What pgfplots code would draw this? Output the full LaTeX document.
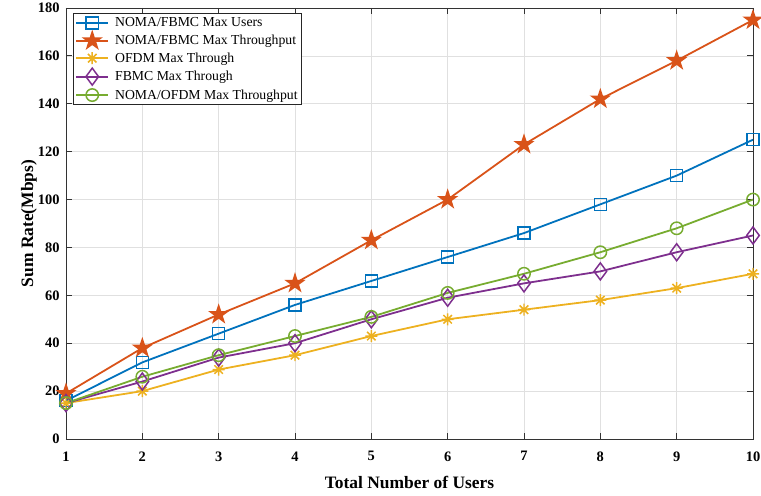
\documentclass[border=0pt]{standalone}
\usepackage{pgfplots}
\pgfplotsset{compat=1.18}
\usepackage{fontspec}
\setmainfont{Liberation Serif}
\usetikzlibrary{plotmarks}
\definecolor{mblue}{rgb}{0,0.447,0.741}
\definecolor{mred}{rgb}{0.85,0.325,0.098}
\definecolor{myellow}{rgb}{0.929,0.694,0.125}
\definecolor{mpurple}{rgb}{0.494,0.184,0.556}
\definecolor{mgreen}{rgb}{0.466,0.674,0.188}
\pgfdeclareplotmark{pentagram}{%
  \pgfpathmoveto{\pgfqpointpolar{90}{\pgfplotmarksize}}%
  \pgfpathlineto{\pgfqpointpolar{126}{0.382\pgfplotmarksize}}%
  \pgfpathlineto{\pgfqpointpolar{162}{\pgfplotmarksize}}%
  \pgfpathlineto{\pgfqpointpolar{198}{0.382\pgfplotmarksize}}%
  \pgfpathlineto{\pgfqpointpolar{234}{\pgfplotmarksize}}%
  \pgfpathlineto{\pgfqpointpolar{270}{0.382\pgfplotmarksize}}%
  \pgfpathlineto{\pgfqpointpolar{306}{\pgfplotmarksize}}%
  \pgfpathlineto{\pgfqpointpolar{342}{0.382\pgfplotmarksize}}%
  \pgfpathlineto{\pgfqpointpolar{18}{\pgfplotmarksize}}%
  \pgfpathlineto{\pgfqpointpolar{54}{0.382\pgfplotmarksize}}%
  \pgfpathclose
  \pgfusepathqfillstroke
}
\pgfdeclareplotmark{matast}{%
  \pgfpathmoveto{\pgfqpoint{-\pgfplotmarksize}{0pt}}\pgfpathlineto{\pgfqpoint{\pgfplotmarksize}{0pt}}%
  \pgfpathmoveto{\pgfqpoint{0pt}{-\pgfplotmarksize}}\pgfpathlineto{\pgfqpoint{0pt}{\pgfplotmarksize}}%
  \pgfpathmoveto{\pgfqpoint{-0.707\pgfplotmarksize}{-0.707\pgfplotmarksize}}\pgfpathlineto{\pgfqpoint{0.707\pgfplotmarksize}{0.707\pgfplotmarksize}}%
  \pgfpathmoveto{\pgfqpoint{-0.707\pgfplotmarksize}{0.707\pgfplotmarksize}}\pgfpathlineto{\pgfqpoint{0.707\pgfplotmarksize}{-0.707\pgfplotmarksize}}%
  \pgfusepathqstroke
}
\pgfdeclareplotmark{mdiamond}{%
  \pgfpathmoveto{\pgfqpoint{0pt}{1.35\pgfplotmarksize}}%
  \pgfpathlineto{\pgfqpoint{\pgfplotmarksize}{0pt}}%
  \pgfpathlineto{\pgfqpoint{0pt}{-1.35\pgfplotmarksize}}%
  \pgfpathlineto{\pgfqpoint{-\pgfplotmarksize}{0pt}}%
  \pgfpathclose
  \pgfusepathqstroke
}
\begin{document}
\begin{tikzpicture}[x=1bp,y=1bp]
\begin{axis}[
  scale only axis,
  width=687bp, height=431bp,
  xmin=1, xmax=10, ymin=0, ymax=180,
  xtick={1,...,10}, ytick={0,20,...,180},
  grid=major,
  major grid style={black!12, line width=0.7pt},
  tick align=inside,
  major tick length=6bp,
  tick style={black!80, line width=0.8pt},
  axis line style={line width=0.8pt, black!80},
  /pgf/number format/assume math mode=true,
  ticklabel style={font=\fontsize{14.5}{16}\selectfont\bfseries},
  xticklabel style={yshift=-9bp},
  yticklabel style={xshift=-3bp},
  label style={font=\fontsize{17.5}{20}\selectfont\bfseries},
  xlabel={Total Number of Users},
  ylabel={Sum Rate(Mbps)},
  xlabel style={at={(axis description cs:0.5,-0.116)}, anchor=base},
  ylabel style={at={(axis description cs:-0.048,0.5)}, anchor=base, rotate=0},
  legend style={at={(0.0102,0.988)}, anchor=north west, draw=black!85, line width=0.7pt,
    font=\fontsize{13.8}{15}\selectfont, row sep=2.4bp, inner xsep=2bp, inner ysep=2bp},
  legend cell align=left,
  legend image code/.code={%
    \path (36bp,0bp);
    \draw[mark repeat=2,mark phase=2] plot coordinates {(0bp,0bp)(16bp,0bp)(32bp,0bp)};},
  every axis plot/.append style={line width=1.8pt, mark size=6bp, mark options={solid, line width=1.5pt}},
]
\addplot[color=mblue, mark=square] coordinates {(1,16)(2,32)(3,44)(4,56)(5,66)(6,76)(7,86)(8,98)(9,110)(10,125)};
\addlegendentry{NOMA/FBMC Max Users}
\addplot[color=mred, mark=pentagram, mark size=8.3bp, mark options={fill=mred}] coordinates {(1,19)(2,38)(3,52)(4,65)(5,83)(6,100)(7,123)(8,142)(9,158)(10,175)};
\addlegendentry{NOMA/FBMC Max Throughput}
\addplot[color=myellow, mark=matast] coordinates {(1,15)(2,20)(3,29)(4,35)(5,43)(6,50)(7,54)(8,58)(9,63)(10,69)};
\addlegendentry{OFDM Max Through}
\addplot[color=mpurple, mark=mdiamond, mark size=6.3bp] coordinates {(1,15)(2,24)(3,34)(4,40)(5,50)(6,59)(7,65)(8,70)(9,78)(10,85)};
\addlegendentry{FBMC Max Through}
\addplot[color=mgreen, mark=o, mark size=6.2bp] coordinates {(1,15)(2,26)(3,35)(4,43)(5,51)(6,61)(7,69)(8,78)(9,88)(10,100)};
\addlegendentry{NOMA/OFDM Max Throughput}
\end{axis}
\pgfresetboundingbox
\useasboundingbox ([shift={(-66bp,-57bp)}]current axis.south west) rectangle ++(761bp,496bp);
\end{tikzpicture}
\end{document}
